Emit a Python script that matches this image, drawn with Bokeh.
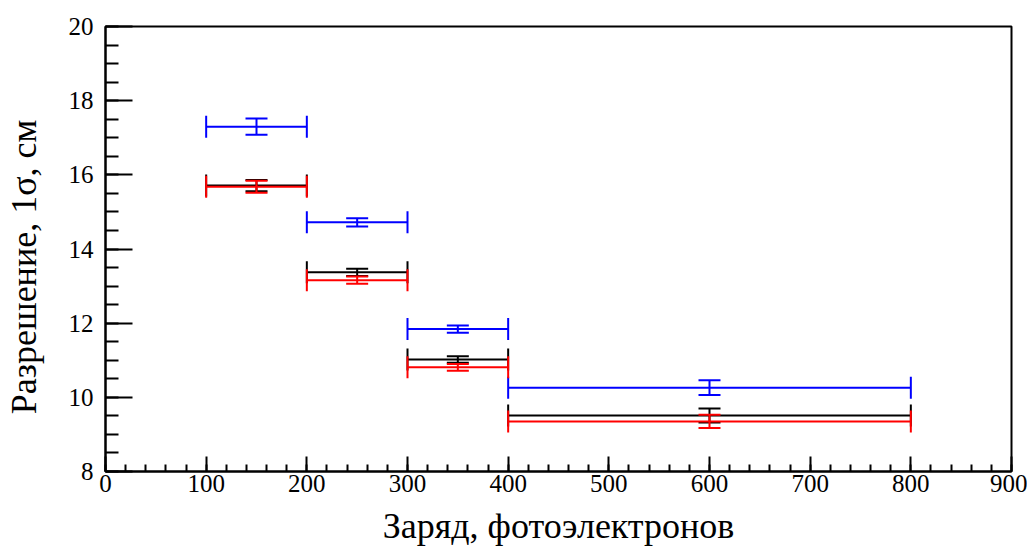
from bokeh.plotting import figure
from bokeh.models import Range1d, FixedTicker, Whisker, ColumnDataSource, TeeHead
from bokeh.embed import file_html
from bokeh.resources import INLINE

# ---- data ----
bin_low = [100, 200, 300, 400]
bin_high = [200, 300, 400, 800]
x_center = [150, 250, 350, 600]

blue_y = [17.30, 14.72, 11.84, 10.26]
blue_err = [0.22, 0.11, 0.10, 0.20]
black_y = [15.71, 13.37, 11.02, 9.51]
black_err = [0.15, 0.10, 0.09, 0.19]
red_y = [15.68, 13.16, 10.81, 9.35]
red_err = [0.16, 0.10, 0.09, 0.18]

x_ticks = [0, 100, 200, 300, 400, 500, 600, 700, 800, 900]
x_minor = list(range(0, 901, 20))
y_ticks = [8, 10, 12, 14, 16, 18, 20]
y_minor = [8 + 0.5 * i for i in range(25)]

x_title = "Заряд, фотоэлектронов"
y_title = "Разрешение, 1σ, см"

FONT = "Liberation Serif"

p = figure(width=1027, height=553, output_backend="svg", toolbar_location=None,
           x_range=Range1d(0, 900), y_range=Range1d(8, 20),
           min_border_left=105, min_border_right=16, min_border_top=26, min_border_bottom=82)
p.grid.visible = False
p.outline_line_color = "black"
p.outline_line_width = 2
p.background_fill_color = "white"
p.border_fill_color = "white"

for ax in (p.xaxis[0], p.yaxis[0]):
    ax.axis_line_width = 2
    ax.axis_line_color = "black"
    ax.major_tick_out = 0
    ax.minor_tick_out = 0
    ax.major_tick_line_width = 2
    ax.minor_tick_line_width = 2
    ax.major_tick_line_color = "black"
    ax.minor_tick_line_color = "black"
    ax.major_label_text_font = FONT
    ax.major_label_text_font_size = "25px"
    ax.major_label_text_color = "black"
    ax.axis_label_text_font = FONT
    ax.axis_label_text_font_size = "36px"
    ax.axis_label_text_font_style = "normal"
    ax.axis_label_text_color = "black"

p.xaxis[0].ticker = FixedTicker(ticks=x_ticks, minor_ticks=x_minor)
p.xaxis[0].major_tick_in = 15
p.xaxis[0].minor_tick_in = 7
p.xaxis[0].major_label_standoff = 3
p.xaxis[0].axis_label = x_title
p.xaxis[0].axis_label_standoff = 11

p.yaxis[0].ticker = FixedTicker(ticks=y_ticks, minor_ticks=y_minor)
p.yaxis[0].major_tick_in = 27
p.yaxis[0].minor_tick_in = 13
p.yaxis[0].major_label_standoff = 12
# trailing no-break spaces nudge the centred title toward the bottom, as in the original
p.yaxis[0].axis_label = y_title + "\u00a0" * 4
p.yaxis[0].axis_label_standoff = 22

series = [(blue_y, blue_err, "#0000ff"), (black_y, black_err, "#000000"), (red_y, red_err, "#ff0000")]
for ys, errs, col in series:
    src = ColumnDataSource(dict(
        x=x_center, x_low=bin_low, x_high=bin_high, y=ys,
        y_low=[v - e for v, e in zip(ys, errs)], y_high=[v + e for v, e in zip(ys, errs)]))
    wx = Whisker(source=src, base="y", lower="x_low", upper="x_high", dimension="width",
                 line_color=col, line_width=2,
                 lower_head=TeeHead(size=22, line_color=col, line_width=2),
                 upper_head=TeeHead(size=22, line_color=col, line_width=2))
    wy = Whisker(source=src, base="x", lower="y_low", upper="y_high", dimension="height",
                 line_color=col, line_width=2,
                 lower_head=TeeHead(size=22, line_color=col, line_width=2),
                 upper_head=TeeHead(size=22, line_color=col, line_width=2))
    p.add_layout(wx)
    p.add_layout(wy)
    p.scatter(x="x", y="y", source=src, size=1, color=col, alpha=0.0)

open("out.html", "w").write(file_html(p, INLINE))
